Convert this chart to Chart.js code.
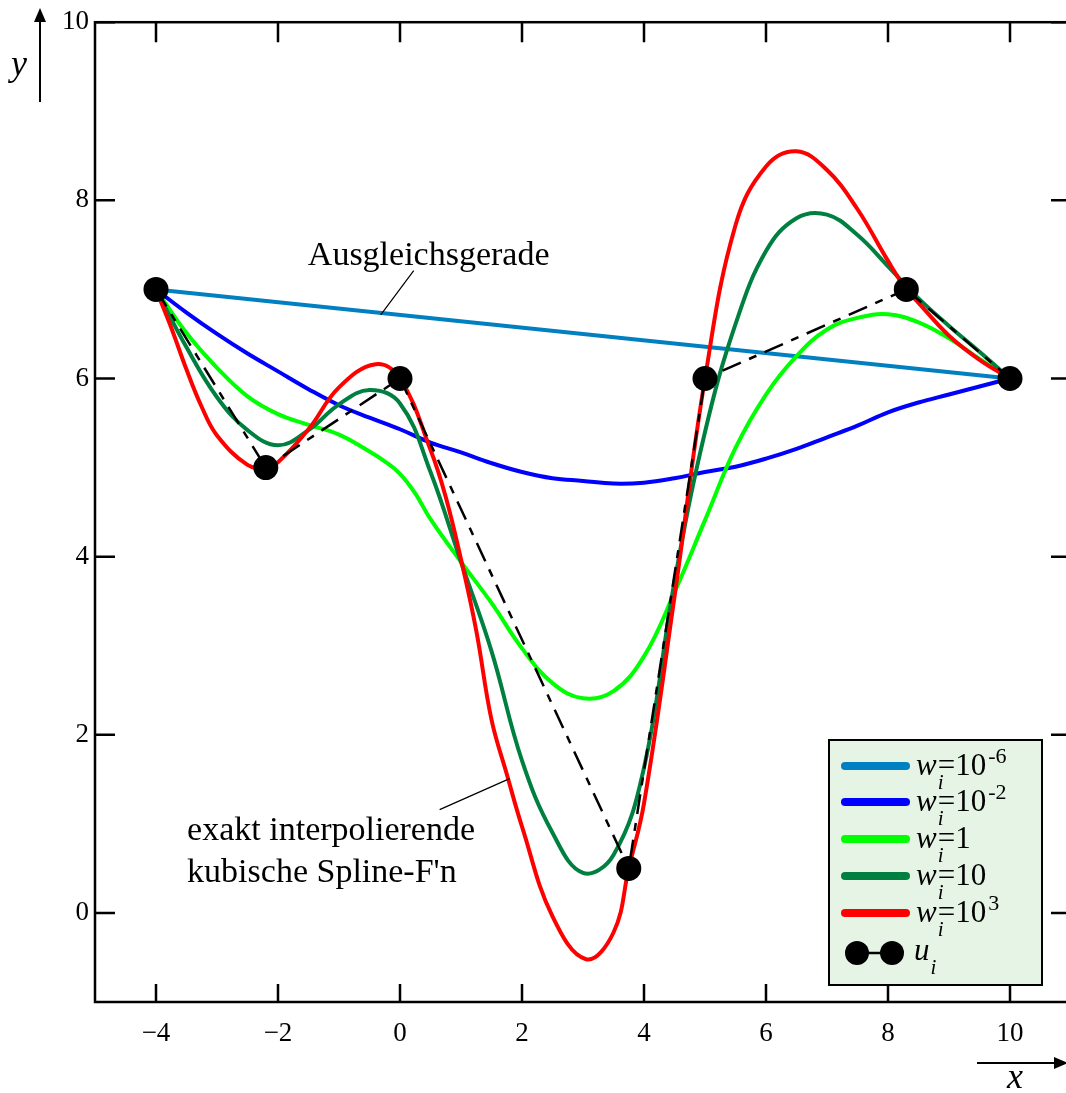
<!DOCTYPE html>
<html>
<head>
<meta charset="utf-8">
<script src="https://cdn.jsdelivr.net/npm/chart.js@4.4.0/dist/chart.umd.min.js"></script>
<style>
html, body { margin: 0; padding: 0; background: #fff; overflow: hidden; }
#wrap { width: 1090px; height: 1093px; }
</style>
</head>
<body>
<div id="wrap"><canvas id="splineChart" width="1090" height="1093"></canvas></div>
<script>
// tick labels
const xTicks = [-4, -2, 0, 2, 4, 6, 8, 10];
const yTicks = [0, 2, 4, 6, 8, 10];

// data points u_i
const uX = [-4, -2.2, 0, 3.75, 5, 8.3, 10];
const uY = [7, 5, 6, 0.5, 6, 7, 6];

// common x grid for the smoothing curves
const xGrid = [-4, -3.5, -3, -2.5, -2, -1.5, -1, -0.5, 0, 0.5, 1, 1.5, 2, 2.5, 3, 3.5, 4, 4.5, 5, 5.5, 6, 6.5, 7, 7.5, 8, 8.5, 9, 9.5, 10];

// w_i = 10^-6 (Ausgleichsgerade)
const lineX = [-4, 10];
const lineY = [7, 6];

// w_i = 10^-2
const w2Y = [7, 6.74, 6.5, 6.28, 6.08, 5.88, 5.7, 5.56, 5.43, 5.28, 5.17, 5.05, 4.95, 4.88, 4.85, 4.82, 4.83, 4.88, 4.95, 5.01, 5.1, 5.21, 5.34, 5.47, 5.62, 5.73, 5.82, 5.91, 6];

// w_i = 1
const w1X = [-4, -3.5, -3, -2.5, -2, -1.5, -1, -0.5, -0.25, 0, 0.25, 0.5, 1, 1.5, 2, 2.5, 3, 3.5, 4, 4.5, 5, 5.5, 6, 6.5, 7, 7.5, 8, 8.5, 9, 9.5, 10];
const w1Y = [7, 6.51, 6.12, 5.8, 5.6, 5.48, 5.37, 5.18, 5.07, 4.93, 4.71, 4.42, 3.94, 3.48, 2.97, 2.58, 2.41, 2.49, 2.88, 3.6, 4.41, 5.22, 5.82, 6.25, 6.55, 6.68, 6.72, 6.63, 6.45, 6.22, 6];

// w_i = 10
const w10Y = [7, 6.35, 5.79, 5.42, 5.25, 5.42, 5.71, 5.87, 5.72, 4.95, 3.94, 2.94, 1.71, 0.9, 0.45, 0.65, 1.63, 3.72, 5.4, 6.61, 7.43, 7.8, 7.84, 7.61, 7.26, 6.9, 6.59, 6.3, 6];

// w_i = 10^3 (interpolating spline)
const splineX = [-4, -3.75, -3.5, -3.25, -3, -2.5, -2.2, -2, -1.5, -1, -0.4, 0, 0.5, 0.75, 1, 1.25, 1.5, 1.75, 2, 2.5, 3.05, 3.5, 3.75, 4, 4.5, 5, 5.5, 6, 6.5, 7, 7.5, 8, 8.3, 8.5, 9, 9.5, 10];
const splineY = [7, 6.57, 6.1, 5.68, 5.36, 5.03, 5.0, 5.06, 5.43, 5.9, 6.16, 6, 5.2, 4.67, 3.97, 3.17, 2.17, 1.56, 0.97, -0.04, -0.52, -0.22, 0.5, 1.23, 3.55, 6, 7.72, 8.38, 8.55, 8.34, 7.9, 7.32, 7, 6.85, 6.48, 6.21, 6];

const colors = {
    w6: '#0080c0',
    w2: '#0000ff',
    w1: '#00ff00',
    w10: '#008040',
    w3: '#ff0000'
};

const serif = "'Liberation Serif', 'Times New Roman', serif";

function pts(xs, ys) {
    return xs.map((x, i) => ({ x: x, y: ys[i] }));
}

function curve(xs, ys, color, order) {
    return {
        data: pts(xs, ys),
        showLine: true,
        borderColor: color,
        borderWidth: 4,
        pointRadius: 0,
        tension: 0.4,
        order: order
    };
}

const framePlugin = {
    id: 'frame',
    afterDraw(chart) {
        const ctx = chart.ctx;
        const xs = chart.scales.x;
        const ys = chart.scales.y;
        const a = chart.chartArea;
        ctx.save();
        ctx.strokeStyle = '#000';
        ctx.lineWidth = 2.5;
        ctx.strokeRect(a.left, a.top, a.right - a.left, a.bottom - a.top);

        ctx.beginPath();
        xTicks.forEach(v => {
            const px = xs.getPixelForValue(v);
            ctx.moveTo(px, a.bottom); ctx.lineTo(px, a.bottom - 18);
            ctx.moveTo(px, a.top); ctx.lineTo(px, a.top + 20);
        });
        yTicks.forEach(v => {
            const py = ys.getPixelForValue(v);
            ctx.moveTo(a.left, py); ctx.lineTo(a.left + 20, py);
            ctx.moveTo(a.right, py); ctx.lineTo(a.right - 20, py);
        });
        ctx.stroke();

        // axis arrows
        ctx.lineWidth = 2;
        ctx.beginPath();
        ctx.moveTo(40, 102); ctx.lineTo(40, 18);
        ctx.moveTo(977, 1063); ctx.lineTo(1058, 1063);
        ctx.stroke();
        ctx.fillStyle = '#000';
        ctx.beginPath();
        ctx.moveTo(40, 8); ctx.lineTo(34, 22); ctx.lineTo(46, 22); ctx.closePath();
        ctx.fill();
        ctx.beginPath();
        ctx.moveTo(1068, 1063); ctx.lineTo(1054, 1057); ctx.lineTo(1054, 1069); ctx.closePath();
        ctx.fill();

        ctx.font = 'italic 36px ' + serif;
        ctx.textAlign = 'center';
        ctx.textBaseline = 'alphabetic';
        ctx.fillText('y', 19, 75);
        ctx.fillText('x', 1015, 1088);

        // annotations
        ctx.font = '34px ' + serif;
        ctx.textAlign = 'center';
        ctx.fillText('Ausgleichsgerade', xs.getPixelForValue(0.47), ys.getPixelForValue(7.27));
        ctx.textAlign = 'left';
        ctx.fillText('exakt interpolierende', xs.getPixelForValue(-3.49), ys.getPixelForValue(0.816));
        ctx.fillText('kubische Spline-F\'n', xs.getPixelForValue(-3.49), ys.getPixelForValue(0.346));
        ctx.lineWidth = 1.2;
        ctx.beginPath();
        ctx.moveTo(xs.getPixelForValue(0.225), ys.getPixelForValue(7.21));
        ctx.lineTo(xs.getPixelForValue(-0.316), ys.getPixelForValue(6.715));
        ctx.moveTo(xs.getPixelForValue(0.65), ys.getPixelForValue(1.16));
        ctx.lineTo(xs.getPixelForValue(1.797), ys.getPixelForValue(1.508));
        ctx.stroke();

        drawLegend(ctx);
        ctx.restore();
    }
};

function richText(ctx, x, base, parts) {
    parts.forEach(p => {
        ctx.font = (p.italic ? 'italic ' : '') + p.size + 'px ' + serif;
        ctx.fillText(p.t, x + (p.dx || 0), base + (p.dy || 0));
        if (!p.noAdvance) x += ctx.measureText(p.t).width + (p.dx || 0);
    });
}

function drawLegend(ctx) {
    const box = { x: 829, y: 740, w: 213, h: 245 };
    ctx.fillStyle = '#e5f4e5';
    ctx.fillRect(box.x, box.y, box.w, box.h);
    ctx.strokeStyle = '#000';
    ctx.lineWidth = 2;
    ctx.strokeRect(box.x, box.y, box.w, box.h);

    const rows = [
        { c: colors.w6, main: '=10', sup: '-6' },
        { c: colors.w2, main: '=10', sup: '-2' },
        { c: colors.w1, main: '=1', sup: '' },
        { c: colors.w10, main: '=10', sup: '' },
        { c: colors.w3, main: '=10', sup: '3' }
    ];
    const rowY = [766, 802, 839, 876, 913];
    ctx.lineCap = 'round';
    ctx.textAlign = 'left';
    ctx.textBaseline = 'alphabetic';
    rows.forEach((r, i) => {
        const y = rowY[i];
        ctx.strokeStyle = r.c;
        ctx.lineWidth = 8;
        ctx.beginPath();
        ctx.moveTo(845, y); ctx.lineTo(906, y);
        ctx.stroke();
        ctx.fillStyle = '#000';
        const parts = [
            { t: 'w', italic: true, size: 31 },
            { t: 'i', italic: true, size: 21, dy: 14, dx: 1, noAdvance: true },
            { t: r.main, size: 31, dx: 1 }
        ];
        if (r.sup) parts.push({ t: r.sup, size: 22, dy: -12, dx: 2 });
        richText(ctx, 916, y + 9, parts);
    });
    ctx.lineCap = 'butt';
    // u_i marker
    const my = 953;
    ctx.strokeStyle = '#000';
    ctx.lineWidth = 2.5;
    ctx.beginPath();
    ctx.moveTo(857, my); ctx.lineTo(892, my);
    ctx.stroke();
    ctx.fillStyle = '#000';
    [857, 892].forEach(cx => {
        ctx.beginPath();
        ctx.arc(cx, my, 12, 0, Math.PI * 2);
        ctx.fill();
    });
    richText(ctx, 914, my + 7, [
        { t: 'u', italic: true, size: 31 },
        { t: 'i', italic: true, size: 21, dy: 14, dx: 1 }
    ]);
}

const ctx = document.getElementById('splineChart').getContext('2d');
new Chart(ctx, {
    type: 'scatter',
    data: {
        datasets: [
            {
                data: pts(uX, uY),
                showLine: true,
                borderColor: '#000',
                borderWidth: 2.5,
                borderDash: [20, 9, 8, 9],
                pointRadius: 12.5,
                pointBackgroundColor: '#000',
                pointBorderWidth: 0,
                tension: 0,
                order: 0
            },
            curve(splineX, splineY, colors.w3, 1),
            curve(xGrid, w10Y, colors.w10, 2),
            curve(w1X, w1Y, colors.w1, 3),
            curve(xGrid, w2Y, colors.w2, 4),
            curve(lineX, lineY, colors.w6, 5)
        ]
    },
    options: {
        responsive: false,
        animation: false,
        devicePixelRatio: 1,
        layout: { padding: { top: 18, right: 19, left: 0, bottom: 0 } },
        plugins: {
            legend: { display: false },
            tooltip: { enabled: false }
        },
        scales: {
            x: {
                type: 'linear',
                min: -5,
                max: 11,
                afterBuildTicks: s => { s.ticks = xTicks.map(v => ({ value: v })); },
                afterFit: s => { s.height = 91; },
                grid: { display: false, drawTicks: false },
                border: { display: false },
                ticks: {
                    padding: 16,
                    color: '#000',
                    font: { family: serif, size: 27 },
                    callback: v => (v < 0 ? '\u2212' + Math.abs(v) : String(v))
                }
            },
            y: {
                type: 'linear',
                min: -1,
                max: 10,
                afterBuildTicks: s => { s.ticks = yTicks.map(v => ({ value: v })); },
                afterFit: s => { s.width = 95; },
                grid: { display: false, drawTicks: false },
                border: { display: false },
                ticks: {
                    padding: 6,
                    color: '#000',
                    font: { family: serif, size: 27 },
                    callback: v => String(v)
                }
            }
        }
    },
    plugins: [framePlugin]
});
</script>
</body>
</html>
